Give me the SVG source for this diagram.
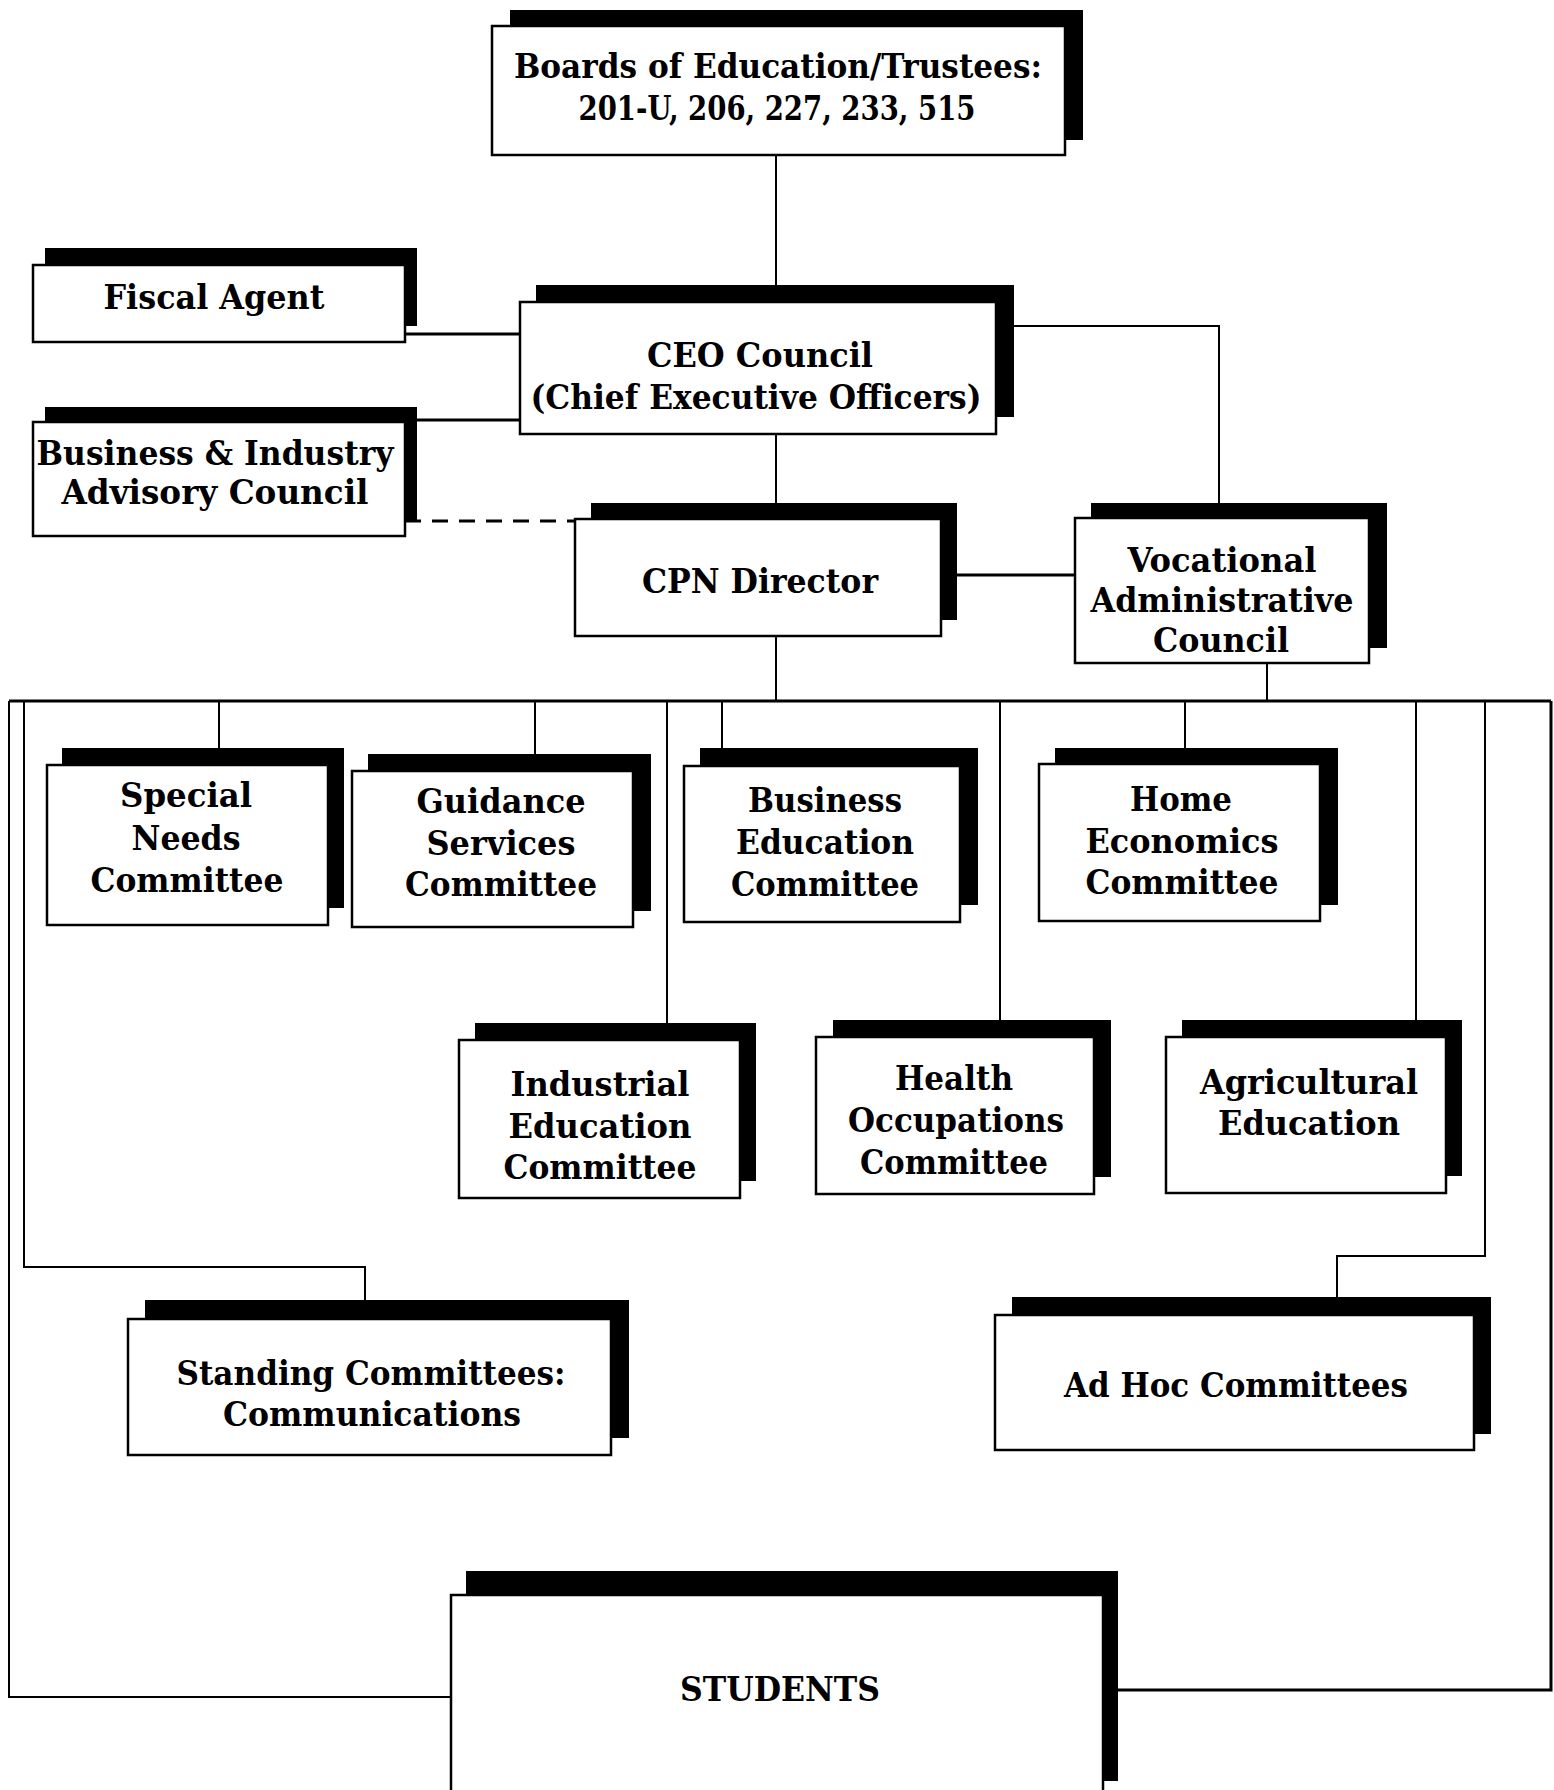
<svg xmlns="http://www.w3.org/2000/svg" width="1554" height="1790" viewBox="0 0 1554 1790">
<style>
.sh{fill:#000}
.bx{fill:#fff;stroke:#000;stroke-width:2.5}
.t{font-family:"DejaVu Serif","Liberation Serif",serif;font-weight:bold;font-size:34px;fill:#000;text-anchor:middle}
.s{font-size:33px}
.c{fill:none;stroke:#000;stroke-width:2}
.cb{fill:none;stroke:#000;stroke-width:3}
.d{fill:none;stroke:#000;stroke-width:3;stroke-dasharray:16 11}
</style>
<rect width="1554" height="1790" fill="#fff"/>
<g id="connectors">
<path class="c" d="M776 155V285"/>
<path class="cb" d="M405 334H520"/>
<path class="cb" d="M417 420H520"/>
<path class="c" d="M1014 326H1219V503"/>
<path class="c" d="M776 434V503"/>
<path class="d" d="M405 521H575"/>
<path class="cb" d="M957 575H1075"/>
<path class="c" d="M776 636V701"/>
<path class="c" d="M1267 663V701"/>
<path class="cb" d="M9 701H1551"/>
<path class="c" d="M9 701V1697H451"/>
<path class="cb" d="M1551 701V1690H1118"/>
<path class="c" d="M24 701V1267H365V1300"/>
<path class="c" d="M1485 701V1256H1337V1297"/>
<path class="c" d="M219 701V748"/>
<path class="c" d="M535 701V754"/>
<path class="c" d="M667 701V1023"/>
<path class="c" d="M722 701V748"/>
<path class="c" d="M1000 701V1020"/>
<path class="c" d="M1185 701V748"/>
<path class="c" d="M1416 701V1020"/>
</g>
<g id="boards">
<rect class="sh" x="510" y="10" width="573" height="130"/>
<rect class="bx" x="492" y="26" width="573" height="129"/>
<text class="t" x="778" y="78" textLength="528" lengthAdjust="spacingAndGlyphs">Boards of Education/Trustees:</text>
<text class="t" x="777" y="120" textLength="397" lengthAdjust="spacingAndGlyphs">201-U, 206, 227, 233, 515</text>
</g>
<g id="fiscal">
<rect class="sh" x="45" y="248" width="372" height="78"/>
<rect class="bx" x="33" y="265" width="372" height="77"/>
<text class="t" x="214" y="309" textLength="221" lengthAdjust="spacingAndGlyphs">Fiscal Agent</text>
</g>
<g id="ceo">
<rect class="sh" x="536" y="285" width="478" height="132"/>
<rect class="bx" x="520" y="302" width="476" height="132"/>
<text class="t" x="760" y="367" textLength="226" lengthAdjust="spacingAndGlyphs">CEO Council</text>
<text class="t" x="756" y="409" textLength="451" lengthAdjust="spacingAndGlyphs">(Chief Executive Officers)</text>
</g>
<g id="business-industry">
<rect class="sh" x="45" y="407" width="372" height="114"/>
<rect class="bx" x="33" y="422" width="372" height="114"/>
<text class="t s" x="215" y="465" textLength="357" lengthAdjust="spacingAndGlyphs">Business &amp; Industry</text>
<text class="t s" x="215" y="504" textLength="307" lengthAdjust="spacingAndGlyphs">Advisory Council</text>
</g>
<g id="cpn">
<rect class="sh" x="591" y="503" width="366" height="117"/>
<rect class="bx" x="575" y="519" width="366" height="117"/>
<text class="t" x="760" y="593" textLength="236" lengthAdjust="spacingAndGlyphs">CPN Director</text>
</g>
<g id="vocational">
<rect class="sh" x="1091" y="503" width="296" height="145"/>
<rect class="bx" x="1075" y="518" width="294" height="145"/>
<text class="t s" x="1222" y="572" textLength="189" lengthAdjust="spacingAndGlyphs">Vocational</text>
<text class="t s" x="1222" y="612" textLength="263" lengthAdjust="spacingAndGlyphs">Administrative</text>
<text class="t s" x="1221" y="652" textLength="136" lengthAdjust="spacingAndGlyphs">Council</text>
</g>
<g id="special-needs">
<rect class="sh" x="62" y="748" width="282" height="160"/>
<rect class="bx" x="47" y="765" width="281" height="160"/>
<text class="t" x="186" y="807" textLength="132" lengthAdjust="spacingAndGlyphs">Special</text>
<text class="t" x="186" y="850" textLength="109" lengthAdjust="spacingAndGlyphs">Needs</text>
<text class="t" x="187" y="892" textLength="193" lengthAdjust="spacingAndGlyphs">Committee</text>
</g>
<g id="guidance">
<rect class="sh" x="368" y="754" width="283" height="157"/>
<rect class="bx" x="352" y="771" width="281" height="156"/>
<text class="t" x="501" y="813" textLength="169" lengthAdjust="spacingAndGlyphs">Guidance</text>
<text class="t" x="501" y="855" textLength="149" lengthAdjust="spacingAndGlyphs">Services</text>
<text class="t" x="501" y="896" textLength="192" lengthAdjust="spacingAndGlyphs">Committee</text>
</g>
<g id="business-education">
<rect class="sh" x="700" y="748" width="278" height="157"/>
<rect class="bx" x="684" y="766" width="276" height="156"/>
<text class="t" x="825" y="812" textLength="154" lengthAdjust="spacingAndGlyphs">Business</text>
<text class="t" x="825" y="854" textLength="178" lengthAdjust="spacingAndGlyphs">Education</text>
<text class="t" x="825" y="896" textLength="188" lengthAdjust="spacingAndGlyphs">Committee</text>
</g>
<g id="home-economics">
<rect class="sh" x="1055" y="748" width="283" height="157"/>
<rect class="bx" x="1039" y="764" width="281" height="157"/>
<text class="t" x="1181" y="811" textLength="102" lengthAdjust="spacingAndGlyphs">Home</text>
<text class="t" x="1182" y="853" textLength="193" lengthAdjust="spacingAndGlyphs">Economics</text>
<text class="t" x="1182" y="894" textLength="193" lengthAdjust="spacingAndGlyphs">Committee</text>
</g>
<g id="industrial">
<rect class="sh" x="475" y="1023" width="281" height="158"/>
<rect class="bx" x="459" y="1040" width="281" height="158"/>
<text class="t" x="600" y="1096" textLength="179" lengthAdjust="spacingAndGlyphs">Industrial</text>
<text class="t" x="600" y="1138" textLength="183" lengthAdjust="spacingAndGlyphs">Education</text>
<text class="t" x="600" y="1179" textLength="193" lengthAdjust="spacingAndGlyphs">Committee</text>
</g>
<g id="health">
<rect class="sh" x="833" y="1020" width="278" height="157"/>
<rect class="bx" x="816" y="1037" width="278" height="157"/>
<text class="t" x="954" y="1090" textLength="118" lengthAdjust="spacingAndGlyphs">Health</text>
<text class="t" x="956" y="1132" textLength="216" lengthAdjust="spacingAndGlyphs">Occupations</text>
<text class="t" x="954" y="1174" textLength="188" lengthAdjust="spacingAndGlyphs">Committee</text>
</g>
<g id="agricultural">
<rect class="sh" x="1182" y="1020" width="280" height="156"/>
<rect class="bx" x="1166" y="1037" width="280" height="156"/>
<text class="t" x="1309" y="1094" textLength="218" lengthAdjust="spacingAndGlyphs">Agricultural</text>
<text class="t" x="1309" y="1135" textLength="182" lengthAdjust="spacingAndGlyphs">Education</text>
</g>
<g id="standing">
<rect class="sh" x="145" y="1300" width="484" height="138"/>
<rect class="bx" x="128" y="1319" width="483" height="136"/>
<text class="t s" x="371" y="1385" textLength="389" lengthAdjust="spacingAndGlyphs">Standing Committees:</text>
<text class="t s" x="372" y="1426" textLength="298" lengthAdjust="spacingAndGlyphs">Communications</text>
</g>
<g id="adhoc">
<rect class="sh" x="1012" y="1297" width="479" height="137"/>
<rect class="bx" x="995" y="1315" width="479" height="135"/>
<text class="t" x="1236" y="1397" textLength="344" lengthAdjust="spacingAndGlyphs">Ad Hoc Committees</text>
</g>
<g id="students">
<rect class="sh" x="466" y="1571" width="652" height="210"/>
<rect class="bx" x="451" y="1595" width="652" height="220"/>
<text class="t" x="780" y="1701" textLength="200" lengthAdjust="spacingAndGlyphs">STUDENTS</text>
</g>
</svg>
